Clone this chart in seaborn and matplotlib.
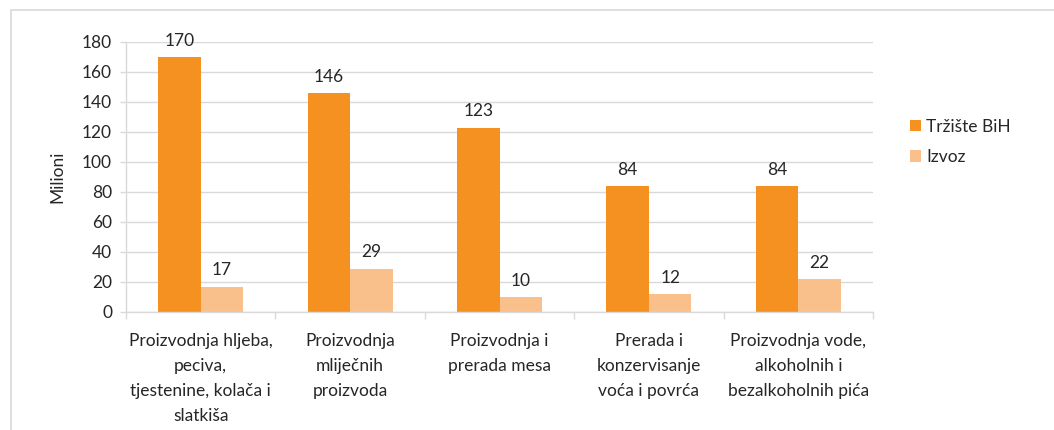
import pandas as pd
import seaborn as sns
import matplotlib.pyplot as plt
from matplotlib.lines import Line2D

# data
categories = [
    "Proizvodnja hljeba,\npeciva,\ntjestenine, kolača i\nslatkiša",
    "Proizvodnja\nmliječnih\nproizvoda",
    "Proizvodnja i\nprerada mesa",
    "Prerada i\nkonzervisanje\nvoća i povrća",
    "Proizvodnja vode,\nalkoholnih i\nbezalkoholnih pića",
]
trziste_bih = [170, 146, 123, 84, 84]
izvoz = [17, 29, 10, 12, 22]
series_names = ["Tržište BiH", "Izvoz"]
y_ticks = [0, 20, 40, 60, 80, 100, 120, 140, 160, 180]

df = pd.DataFrame({
    "kategorija": categories * 2,
    "serija": [series_names[0]] * len(categories) + [series_names[1]] * len(categories),
    "vrijednost": trziste_bih + izvoz,
})

sns.set_theme(style="white")
plt.rcParams["font.family"] = ["Lato", "DejaVu Sans"]

fs = 12.5
txt_c = "#262626"
grid_c = "#D9D9D9"

fig = plt.figure(figsize=(10.54, 4.30), dpi=100)
ax = fig.add_axes([126 / 1054, 1 - 312 / 430, (873 - 126) / 1054, (312 - 42) / 430])

palette = {"Tržište BiH": "#F59120", "Izvoz": "#FAC08C"}
sns.barplot(data=df, x="kategorija", y="vrijednost", hue="serija",
            palette=palette, width=0.57, gap=0, saturation=1,
            edgecolor="none", ax=ax, legend=True)

for cont in ax.containers:
    ax.bar_label(cont, padding=6, fontsize=fs, color=txt_c)

ax.set_ylim(0, 180)
ax.set_xlim(-0.5, len(categories) - 0.5)
ax.set_yticks(y_ticks)
ax.yaxis.grid(True, color=grid_c, linewidth=1)
ax.set_axisbelow(True)
for side in ["top", "right"]:
    ax.spines[side].set_visible(False)
for side in ["left", "bottom"]:
    ax.spines[side].set_color(grid_c)
    ax.spines[side].set_linewidth(1)

ax.set_xticks(range(len(categories)))
ax.set_xticklabels(categories, fontsize=fs, color=txt_c, linespacing=1.7,
                   va="top")
ax.set_xticks([i - 0.5 for i in range(len(categories) + 1)], minor=True)
ax.tick_params(axis="x", which="major", length=0, pad=15)
ax.tick_params(axis="x", which="minor", length=5, color=grid_c, width=1,
               bottom=True)
ax.tick_params(axis="y", length=4, color=grid_c, width=1, left=True,
               labelsize=fs, labelcolor=txt_c, pad=6)

ax.set_xlabel("")
ax.set_ylabel("Milioni", fontsize=fs, color=txt_c, labelpad=12)

ax.legend(loc="center left", bbox_to_anchor=(1.028, 0.63), frameon=False,
          fontsize=fs, handlelength=0.65, handleheight=0.65, handletextpad=0.3,
          labelspacing=0.85, labelcolor=txt_c)

# outer chart border
fig.add_artist(Line2D([11 / 1054, 1], [1 - 10 / 430] * 2, color=grid_c, lw=1.2))
fig.add_artist(Line2D([11 / 1054] * 2, [0, 1 - 10 / 430], color=grid_c, lw=1.2))

fig.savefig("out.png", dpi=100)
